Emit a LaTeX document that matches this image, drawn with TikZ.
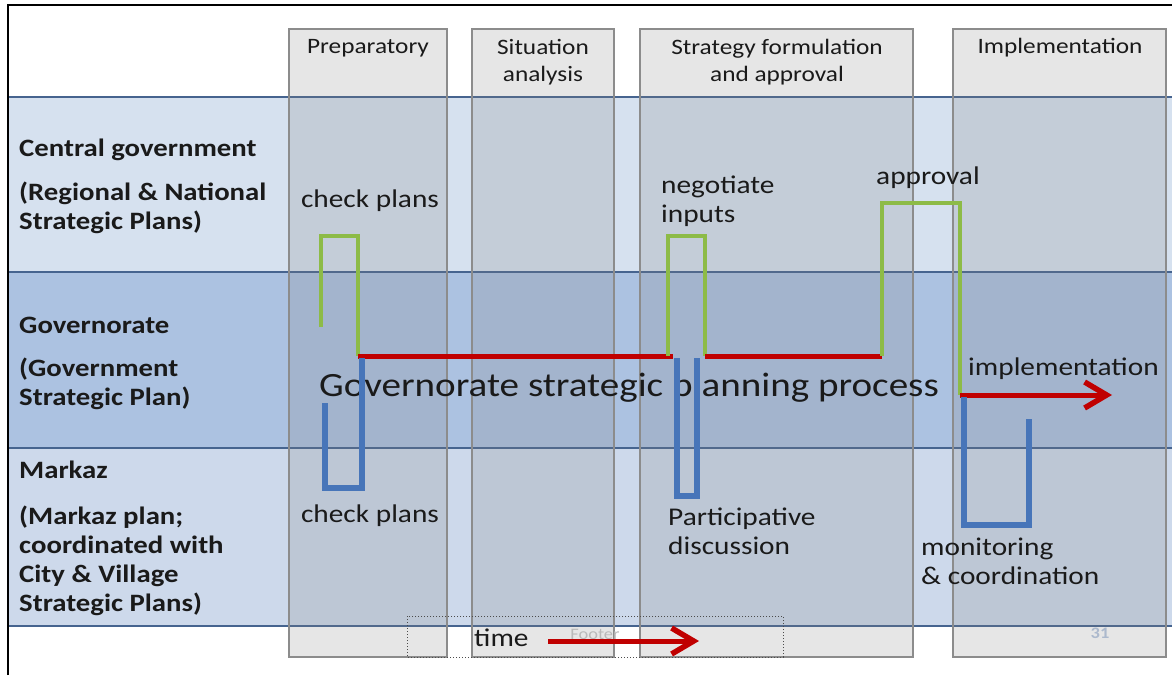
\documentclass[tikz,border=0pt]{standalone}
\usepackage{fontspec}
\setmainfont{Carlito}[FakeStretch=1.15]
\usetikzlibrary{arrows.meta}

\definecolor{bandtop}{HTML}{D6E1EF}
\definecolor{bandmid}{HTML}{ACC2E1}
\definecolor{bandlow}{HTML}{CDD9EB}
\definecolor{rowrule}{HTML}{46648F}
\definecolor{phaseline}{HTML}{8C8C8C}
\definecolor{greenline}{HTML}{8DBB47}
\definecolor{redline}{HTML}{C00000}
\definecolor{blueline}{HTML}{4775B9}
\definecolor{inktext}{HTML}{1A1A1A}

\begin{document}
\begin{tikzpicture}[x=1pt,y=-1pt,
  band rule/.style={rowrule, line width=2.8pt},
  phase box/.style={draw=phaseline, line width=1.8pt, fill=gray, fill opacity=0.2},
  head text/.style={inner sep=0pt, text=inktext, align=center, font=\fontsize{22}{27}\selectfont},
  row text/.style={inner sep=0pt, anchor=west, text=inktext, align=left, font=\bfseries\fontsize{25}{29}\selectfont},
  note text/.style={inner sep=0pt, text=inktext, align=left, font=\fontsize{25.5}{29}\selectfont},
  green run/.style={greenline, line width=4.5pt},
  red run/.style={redline, line width=5pt},
  blue run/.style={blueline, line width=5.5pt},
  flow tip/.style={-{Straight Barb[length=22pt,width=26pt,line width=5.5pt]}},
  foot text/.style={inner sep=0pt, font=\fontsize{16}{16}\selectfont}]
\useasboundingbox (0,0) rectangle (1172,675);

\fill[bandtop] (8,97) rectangle (1172,272);
\fill[bandmid] (8,272) rectangle (1172,448);
\fill[bandlow] (8,448) rectangle (1172,626);
\foreach \y in {97,272,448,626}
  \draw[band rule] (8,\y) -- (1172,\y);
\draw[black, line width=2pt] (8,675) -- (8,5) -- (1172,5);

\foreach \xa/\xb in {289/447, 472/614, 640/913, 953/1166}
  \draw[phase box] (\xa,29) rectangle (\xb,657);

\node[head text] (prep) at (368,48) {Preparatory};
\node[head text] (situ) at (543,62) {Situation\\analysis};
\node[head text] (strat) at (777,62) {Strategy formulation\\and approval};
\node[head text] (impl) at (1060,48) {Implementation};

\node[row text] (central) at (19,150) {Central government};
\node[row text] (centralplan) at (19,208) {(Regional \& National\\Strategic Plans)};
\node[row text] (gov) at (19,325) {Governorate};
\node[row text] (govplan) at (19,384) {(Government\\Strategic Plan)};
\node[row text] (markaz) at (19,470) {Markaz};
\node[row text] (markazplan) at (19,561) {(Markaz plan;\\coordinated with\\City \& Village\\Strategic Plans)};

\node[note text] (checktop) at (370,201) {check plans};
\node[note text] (checkbot) at (370,516) {check plans};
\node[note text, anchor=west] (negotiate) at (661,201) {negotiate\\inputs};
\node[note text] (approval) at (928,178) {approval};
\node[note text, anchor=west] (implrun) at (968,369) {implementation};
\node[note text, anchor=west] (particip) at (668,531) {Participative\\discussion};
\node[note text, anchor=west] (monitor) at (921,561) {monitoring\\\& coordination};
\node[inner sep=0pt, text=inktext, font=\fontsize{34}{34}\selectfont] (process) at (629,388) {Governorate strategic planning process};

\draw[green run] (321,327) |- (358,236) -- (358,356);
\draw[red run] (358,356) -- (673,356);
\draw[green run] (668,356) |- (705,236) -- (705,356);
\draw[red run] (705,356) -- (882,356);
\draw[green run] (882,356) |- (960,203) -- (960,395);
\coordinate (implend) at (1112,395);
\draw[red run, flow tip] (960,395) -- (implend);

\draw[blue run] (325,403) |- (362,488) -- (362,358);
\draw[blue run] (677,358) |- (697,496) -- (697,358);
\draw[blue run] (964,397) |- (1029,525) -- (1029,419);

\draw[black!70, dotted, line width=1pt] (407,616) rectangle (783,657);
\node[foot text, text=gray!55] (footer) at (595,634) {Footer};
\node[foot text, text=rowrule!45] (pageno) at (1100,633) {\bfseries 31};
\node[note text, anchor=west] (time) at (474,638) {time};
\coordinate (timestart) at (548,641);
\coordinate (timeend) at (699,641);
\draw[red run, flow tip] (timestart) -- (timeend);
\end{tikzpicture}
\end{document}
